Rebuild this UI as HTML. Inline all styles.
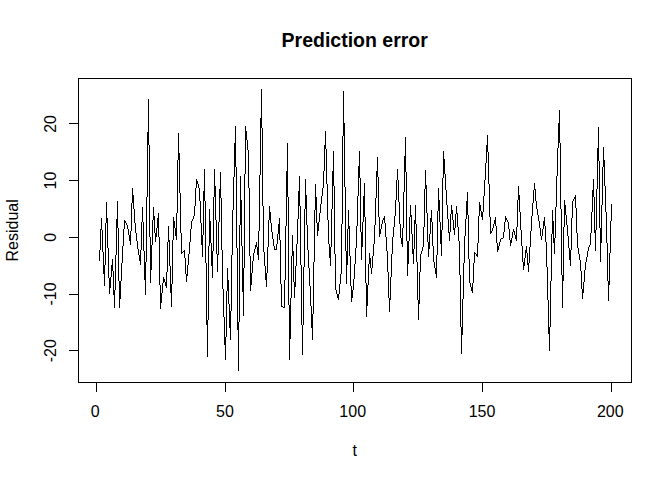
<!DOCTYPE html><html><head><meta charset="utf-8"><title>Prediction error</title>
<style>html,body{margin:0;padding:0;background:#fff}svg{display:block}text{font-family:"Liberation Sans",sans-serif;fill:#000}</style></head><body>
<svg width="672" height="480" viewBox="0 0 672 480">
<rect width="672" height="480" fill="#fff"/>
<g fill="none" stroke="#000" stroke-width="1" shape-rendering="crispEdges">
<rect x="78.5" y="78.5" width="553" height="304"/>
<path d="M97.0 382.5H612.0"/>
<path d="M96.5 382.5V392.0"/>
<path d="M225.5 382.5V392.0"/>
<path d="M353.5 382.5V392.0"/>
<path d="M482.5 382.5V392.0"/>
<path d="M611.5 382.5V392.0"/>
<path d="M78.5 123V351"/>
<path d="M78.5 350.5H69.0"/>
<path d="M78.5 294.5H69.0"/>
<path d="M78.5 237.5H69.0"/>
<path d="M78.5 180.5H69.0"/>
<path d="M78.5 123.5H69.0"/>
<path d="M99.5 250V261M100.5 229V250M101.5 218V230M102.5 230V252M103.5 252V274M104.5 265V286M105.5 223V265M106.5 202V223M107.5 218V248M108.5 248V278M109.5 278V294M110.5 277V288M111.5 265V277M112.5 259V271M113.5 271V295M114.5 290V308M115.5 255V290M116.5 219V255M117.5 201V228M118.5 228V281M119.5 281V308M120.5 281V299M121.5 263V281M122.5 246V263M123.5 229V246M124.5 220V229M125.5 221V223M126.5 223V225M127.5 225V229M128.5 229V235M129.5 235V241M130.5 231V245M131.5 203V231M132.5 188V203M133.5 195V209M134.5 209V223M135.5 223V233M136.5 233V241M137.5 241V249M138.5 249V255M139.5 255V261M140.5 250V265M141.5 222V250M142.5 207V222M143.5 222V251M144.5 251V280M145.5 262V295M146.5 197V262M147.5 132V197M148.5 99V145M149.5 145V237M150.5 237V283M151.5 245V270M152.5 220V245M153.5 207V220M154.5 216V233M155.5 233V242M156.5 228V237M157.5 218V228M158.5 213V237M159.5 237V285M160.5 285V309M161.5 293V303M162.5 283V293M163.5 277V283M164.5 279V282M165.5 282V286M166.5 272V288M167.5 242V272M168.5 226V242M169.5 240V266M170.5 266V293M171.5 284V307M172.5 240V284M173.5 217V240M174.5 221V228M175.5 228V236M176.5 213V240M177.5 160V213M178.5 133V160M179.5 153V193M180.5 193V233M181.5 233V254M182.5 252V253M183.5 251V252M184.5 250V258M185.5 258V274M186.5 274V282M187.5 265V276M188.5 254V265M189.5 242V254M190.5 229V242M191.5 221V229M192.5 219V221M193.5 216V219M194.5 206V216M195.5 188V206M196.5 179V188M197.5 181V184M198.5 184V188M199.5 188V201M200.5 201V223M201.5 223V245M202.5 235V257M203.5 191V235M204.5 169V201M205.5 201V263M206.5 263V325M207.5 320V357M208.5 246V320M209.5 209V246M210.5 221V243M211.5 243V266M212.5 251V278M213.5 197V251M214.5 169V197M215.5 186V220M216.5 220V254M217.5 254V272M218.5 222V255M219.5 189V222M220.5 172V198M221.5 198V250M222.5 250V289M223.5 289V317M224.5 317V345M225.5 337V360M226.5 291V337M227.5 268V291M228.5 280V304M229.5 304V328M230.5 311V340M231.5 255V311M232.5 210V255M233.5 177V210M234.5 143V177M235.5 126V167M236.5 167V248M237.5 248V330M238.5 322V371M239.5 225V322M240.5 176V225M241.5 200V246M242.5 246V292M243.5 268V316M244.5 174V268M245.5 126V174M246.5 131V140M247.5 140V150M248.5 150V188M249.5 188V256M250.5 256V291M251.5 273V285M252.5 261V273M253.5 253V261M254.5 249V253M255.5 245V249M256.5 242V247M257.5 247V255M258.5 231V260M259.5 175V231M260.5 118V175M261.5 89V128M262.5 128V206M263.5 206V252M264.5 252V266M265.5 266V280M266.5 273V287M267.5 247V273M268.5 220V247M269.5 206V220M270.5 212V223M271.5 223V232M272.5 232V239M273.5 239V246M274.5 246V250M275.5 249V250M276.5 244V250M277.5 234V244M278.5 224V234M279.5 218V240M280.5 240V284M281.5 284V307M282.5 306V307M283.5 307V308M284.5 280V308M285.5 226V280M286.5 171V226M287.5 143V197M288.5 197V305M289.5 305V360M290.5 298V339M291.5 256V298M292.5 235V256M293.5 251V282M294.5 282V298M295.5 266V287M296.5 244V266M297.5 219V244M298.5 191V219M299.5 176V206M300.5 206V265M301.5 265V325M302.5 325V355M303.5 267V325M304.5 209V267M305.5 179V209M306.5 195V225M307.5 225V250M308.5 250V268M309.5 268V286M310.5 286V306M311.5 306V328M312.5 314V340M313.5 262V314M314.5 210V262M315.5 184V210M316.5 197V223M317.5 223V236M318.5 222V231M319.5 213V222M320.5 204V213M321.5 196V204M322.5 188V196M323.5 171V188M324.5 145V171M325.5 131V149M326.5 149V184M327.5 184V220M328.5 220V244M329.5 244V258M330.5 247V266M331.5 209V247M332.5 171V209M333.5 151V186M334.5 186V254M335.5 254V290M336.5 290V294M337.5 294V298M338.5 294V300M339.5 284V294M340.5 274V284M341.5 224V274M342.5 136V224M343.5 91V136M344.5 123V187M345.5 187V251M346.5 251V284M347.5 229V265M348.5 210V229M349.5 226V256M350.5 256V286M351.5 286V302M352.5 290V298M353.5 279V290M354.5 264V279M355.5 248V264M356.5 226V248M357.5 196V226M358.5 166V196M359.5 151V178M360.5 178V232M361.5 232V260M362.5 222V247M363.5 196V222M364.5 183V217M365.5 217V283M366.5 283V317M367.5 285V306M368.5 264V285M369.5 253V264M370.5 258V268M371.5 268V274M372.5 256V268M373.5 244V256M374.5 225V244M375.5 198V225M376.5 171V198M377.5 157V177M378.5 177V217M379.5 217V237M380.5 229V234M381.5 224V229M382.5 220V224M383.5 218V220M384.5 216V223M385.5 223V237M386.5 237V251M387.5 251V272M388.5 272V298M389.5 298V312M390.5 277V300M391.5 254V277M392.5 237V254M393.5 227V237M394.5 216V227M395.5 200V216M396.5 180V200M397.5 169V180M398.5 180V202M399.5 202V224M400.5 224V238M401.5 238V244M402.5 228V247M403.5 192V228M404.5 156V192M405.5 137V172M406.5 172V241M407.5 241V276M408.5 241V264M409.5 217V241M410.5 205V217M411.5 215V234M412.5 234V254M413.5 249V264M414.5 220V249M415.5 205V224M416.5 224V262M417.5 262V300M418.5 300V320M419.5 272V304M420.5 254V272M421.5 251V254M422.5 247V251M423.5 227V247M424.5 189V227M425.5 170V189M426.5 185V213M427.5 213V242M428.5 242V257M429.5 234V249M430.5 218V234M431.5 210V222M432.5 222V246M433.5 246V262M434.5 262V268M435.5 268V274M436.5 255V278M437.5 211V255M438.5 188V211M439.5 200V222M440.5 222V244M441.5 230V256M442.5 178V230M443.5 151V178M444.5 159V174M445.5 174V190M446.5 190V205M447.5 205V219M448.5 219V233M449.5 232V241M450.5 214V232M451.5 205V214M452.5 210V220M453.5 220V230M454.5 228V235M455.5 214V228M456.5 206V214M457.5 213V227M458.5 227V241M459.5 241V275M460.5 275V327M461.5 327V354M462.5 299V335M463.5 263V299M464.5 236V263M465.5 219V236M466.5 201V219M467.5 192V215M468.5 215V259M469.5 259V283M470.5 283V287M471.5 287V291M472.5 283V293M473.5 263V283M474.5 252V263M475.5 253V254M476.5 254V256M477.5 243V257M478.5 216V243M479.5 202V216M480.5 205V211M481.5 211V217M482.5 212V220M483.5 196V212M484.5 180V196M485.5 163V180M486.5 145V163M487.5 135V152M488.5 152V184M489.5 184V217M490.5 217V234M491.5 231V233M492.5 228V231M493.5 224V228M494.5 220V224M495.5 217V226M496.5 226V243M497.5 243V252M498.5 246V250M499.5 242V246M500.5 239V242M501.5 238V239M502.5 238V239M503.5 232V238M504.5 222V232M505.5 216V222M506.5 218V220M507.5 220V222M508.5 222V229M509.5 229V240M510.5 240V246M511.5 238V243M512.5 232V238M513.5 229V232M514.5 231V235M515.5 235V239M516.5 227V241M517.5 200V227M518.5 186V200M519.5 195V212M520.5 212V230M521.5 230V246M522.5 246V262M523.5 262V270M524.5 258V266M525.5 250V258M526.5 246V253M527.5 253V265M528.5 263V272M529.5 247V263M530.5 231V247M531.5 216V231M532.5 203V216M533.5 190V203M534.5 183V190M535.5 189V201M536.5 201V209M537.5 209V215M538.5 215V221M539.5 221V228M540.5 228V236M541.5 236V240M542.5 229V236M543.5 221V229M544.5 217V226M545.5 226V242M546.5 242V267M547.5 267V300M548.5 300V334M549.5 327V351M550.5 281V327M551.5 234V281M552.5 210V234M553.5 221V243M554.5 238V254M555.5 207V238M556.5 176V207M557.5 148V176M558.5 123V148M559.5 110V143M560.5 143V209M561.5 209V275M562.5 275V308M563.5 227V281M564.5 200V227M565.5 205V215M566.5 215V225M567.5 225V236M568.5 236V248M569.5 248V260M570.5 250V266M571.5 218V250M572.5 201V218M573.5 199V201M574.5 197V199M575.5 195V208M576.5 208V233M577.5 233V248M578.5 248V254M579.5 254V260M580.5 260V271M581.5 271V289M582.5 289V299M583.5 282V293M584.5 270V282M585.5 262V270M586.5 257V262M587.5 251V257M588.5 247V251M589.5 245V247M590.5 233V245M591.5 212V233M592.5 190V212M593.5 179V197M594.5 197V233M595.5 230V251M596.5 189V230M597.5 148V189M598.5 127V161M599.5 161V228M600.5 228V262M601.5 205V243M602.5 167V205M603.5 147V167M604.5 160V186M605.5 186V212M606.5 212V243M607.5 243V281M608.5 281V301M609.5 253V285M610.5 221V253M611.5 204V221"/>
</g>
<text transform="translate(354.7,46.9) scale(1,1.07)" text-anchor="middle" font-size="19.5" font-weight="bold">Prediction error</text>
<text x="95.1" y="417" text-anchor="middle" font-size="16">0</text>
<text x="225.0" y="417" text-anchor="middle" font-size="16">50</text>
<text x="352.7" y="417" text-anchor="middle" font-size="16">100</text>
<text x="482.0" y="417" text-anchor="middle" font-size="16">150</text>
<text x="610.3" y="417" text-anchor="middle" font-size="16">200</text>
<text transform="translate(56,350.7) rotate(-90)" text-anchor="middle" font-size="16">-20</text>
<text transform="translate(56,294.0) rotate(-90)" text-anchor="middle" font-size="16">-10</text>
<text transform="translate(56,237.3) rotate(-90)" text-anchor="middle" font-size="16">0</text>
<text transform="translate(56,180.6) rotate(-90)" text-anchor="middle" font-size="16">10</text>
<text transform="translate(56,123.9) rotate(-90)" text-anchor="middle" font-size="16">20</text>
<text x="354.7" y="455.5" text-anchor="middle" font-size="16">t</text>
<text transform="translate(18,230.4) rotate(-90)" text-anchor="middle" font-size="16">Residual</text>
</svg></body></html>
